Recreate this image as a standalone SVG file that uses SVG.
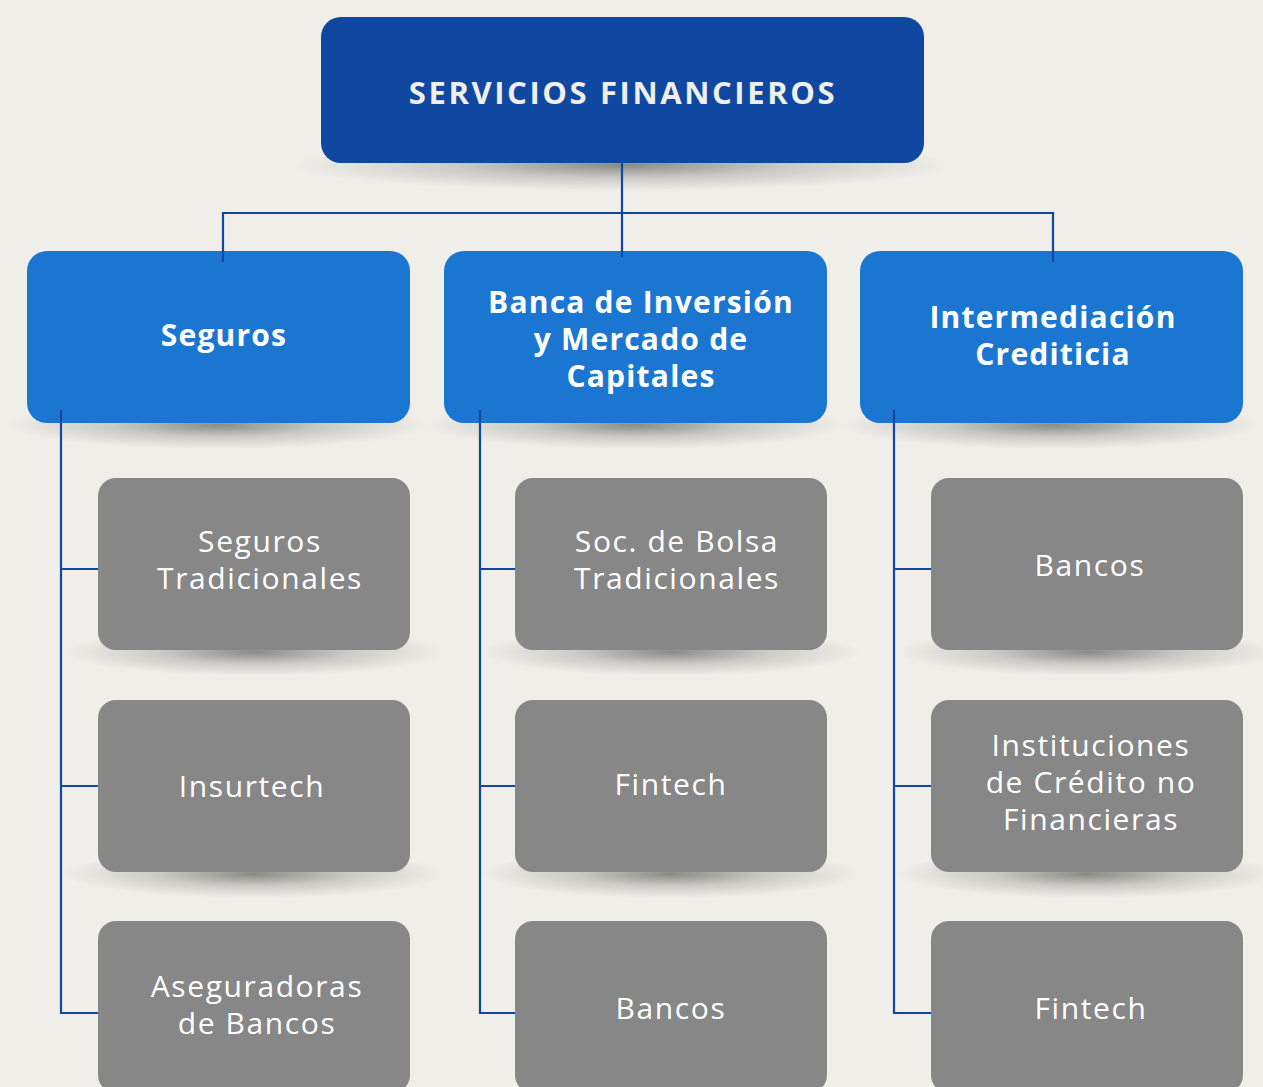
<svg xmlns="http://www.w3.org/2000/svg" width="1263" height="1087" viewBox="0 0 1263 1087">
<defs>
<radialGradient id="sh" cx="0.5" cy="0.5" r="0.5">
<stop offset="0" stop-color="#000" stop-opacity="0.42"/>
<stop offset="0.5" stop-color="#000" stop-opacity="0.15"/>
<stop offset="1" stop-color="#000" stop-opacity="0"/>
</radialGradient>
<style>
.top{fill:#0f47a1}
.mid{fill:#1b76d2}
.leaf{fill:#878787}
.t{font-family:"Open Sans","Liberation Sans",sans-serif;fill:#fff;text-anchor:middle}
.tt{font-size:31px;font-weight:700;letter-spacing:2.6px;fill:#f0efea}
.tm{font-size:30px;font-weight:700;letter-spacing:1.2px}
.tl{font-size:30px;font-weight:500;letter-spacing:1.6px}
.sh{fill:url(#sh)}
.c{fill:none;stroke:#0f47a1;stroke-width:2.2}
</style>
</defs>
<rect width="1263" height="1087" fill="#efeee9"/>
<g id="shadows">
<ellipse class="sh" cx="622" cy="165" rx="330" ry="26"/>
<ellipse class="sh" cx="218" cy="425" rx="210" ry="24"/>
<ellipse class="sh" cx="635" cy="425" rx="210" ry="24"/>
<ellipse class="sh" cx="1051" cy="425" rx="210" ry="24"/>
<ellipse class="sh" cx="254" cy="652" rx="190" ry="24"/>
<ellipse class="sh" cx="671" cy="652" rx="190" ry="24"/>
<ellipse class="sh" cx="1087" cy="652" rx="190" ry="24"/>
<ellipse class="sh" cx="254" cy="874" rx="190" ry="24"/>
<ellipse class="sh" cx="671" cy="874" rx="190" ry="24"/>
<ellipse class="sh" cx="1087" cy="874" rx="190" ry="24"/>
</g>
<g id="n-servicios"><rect class="top" x="321" y="17" width="603" height="146" rx="20"/><text class="t tt" x="623" y="104">SERVICIOS FINANCIEROS</text></g>
<g id="n-seguros"><rect class="mid" x="27" y="251" width="383" height="172" rx="20"/><text class="t tm" x="224" y="346">Seguros</text></g>
<g id="n-banca"><rect class="mid" x="444" y="251" width="383" height="172" rx="20"/><text class="t tm" x="641" y="313">Banca de Inversión<tspan x="641" y="350">y Mercado de</tspan><tspan x="641" y="387">Capitales</tspan></text></g>
<g id="n-intermediacion"><rect class="mid" x="860" y="251" width="383" height="172" rx="20"/><text class="t tm" x="1053" y="328">Intermediación<tspan x="1053" y="365">Crediticia</tspan></text></g>
<g id="n-seg-trad"><rect class="leaf" x="98" y="478" width="312" height="172" rx="18"/><text class="t tl" x="260" y="552">Seguros<tspan x="260" y="589">Tradicionales</tspan></text></g>
<g id="n-insurtech"><rect class="leaf" x="98" y="700" width="312" height="172" rx="18"/><text class="t tl" x="252" y="797">Insurtech</text></g>
<g id="n-aseg-bancos"><rect class="leaf" x="98" y="921" width="312" height="172" rx="18"/><text class="t tl" x="257" y="997">Aseguradoras<tspan x="257" y="1034">de Bancos</tspan></text></g>
<g id="n-soc-bolsa"><rect class="leaf" x="515" y="478" width="312" height="172" rx="18"/><text class="t tl" x="677" y="552">Soc. de Bolsa<tspan x="677" y="589">Tradicionales</tspan></text></g>
<g id="n-fintech-2"><rect class="leaf" x="515" y="700" width="312" height="172" rx="18"/><text class="t tl" x="671" y="795">Fintech</text></g>
<g id="n-bancos-2"><rect class="leaf" x="515" y="921" width="312" height="172" rx="18"/><text class="t tl" x="671" y="1019">Bancos</text></g>
<g id="n-bancos-3"><rect class="leaf" x="931" y="478" width="312" height="172" rx="18"/><text class="t tl" x="1090" y="576">Bancos</text></g>
<g id="n-instituciones"><rect class="leaf" x="931" y="700" width="312" height="172" rx="18"/><text class="t tl" x="1091" y="756">Instituciones<tspan x="1091" y="793">de Crédito no</tspan><tspan x="1091" y="830">Financieras</tspan></text></g>
<g id="n-fintech-3"><rect class="leaf" x="931" y="921" width="312" height="172" rx="18"/><text class="t tl" x="1091" y="1019">Fintech</text></g>
<g id="connectors">
<path class="c" d="M622 163V257M223 262V213H1053V262"/>
<path class="c" d="M61 410V1013H98M61 569H98M61 786H98"/>
<path class="c" d="M480 410V1013H515M480 569H515M480 786H515"/>
<path class="c" d="M894 410V1013H931M894 569H931M894 786H931"/>
</g>
</svg>
